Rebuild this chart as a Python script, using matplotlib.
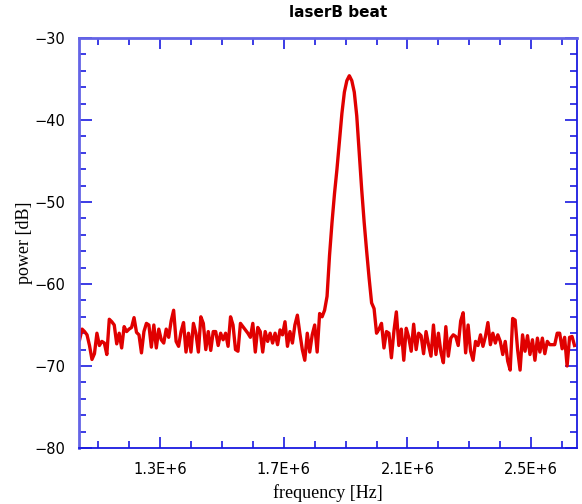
import numpy as np
import matplotlib
matplotlib.use('Agg')
import matplotlib.pyplot as plt
from matplotlib.ticker import FixedLocator, MultipleLocator, FuncFormatter

# frequency grid of the trace [Hz]
f_start = 1.04e6
f_step = 8.0e3

# measured power [dB], one value per frequency bin
power_left = [
    -66.8, -65.5, -65.8, -66.2, -67.5, -69.2, -68.5, -66.0, -67.5, -67.0,
    -67.2, -68.6, -64.3, -64.6, -65.0, -67.3, -66.0, -67.8, -65.2, -65.8,
    -65.5, -65.3, -64.1, -65.9, -66.2, -68.4, -65.8, -64.8, -65.0, -67.7,
    -65.0, -67.8, -65.5, -66.8, -67.2, -65.5, -66.5, -64.5, -63.2, -67.0,
    -67.6, -65.8, -64.7, -68.3, -66.0, -68.3, -64.8, -66.0, -68.3, -64.0,
    -64.8, -68.0, -65.8, -68.1, -65.8, -65.8, -67.5, -66.0, -66.8, -66.0,
    -67.6, -64.0, -65.0, -68.0, -68.2, -64.8, -65.2, -65.6, -66.0, -66.5,
    -64.8, -68.3, -65.3, -65.8, -68.3, -65.8, -67.0, -66.0, -67.2, -66.0,
    -67.4, -65.6, -66.2, -64.6, -67.6, -65.8, -67.2, -65.0, -63.8, -66.0,
    -68.0, -69.3, -66.0, -68.3, -66.2, -65.0, -68.3, -63.6, -64.0, -63.2,
]
power_peak = [
    -61.5, -56.5, -52.5, -49.0, -46.0, -42.6, -39.2, -36.6, -35.2, -34.6,
    -35.2, -36.6, -39.5, -44.0, -48.5, -52.5, -56.0, -59.3, -62.3, -63.0,
]
power_right = [
    -66.0, -65.5, -64.8, -67.8, -65.8, -66.0, -69.0, -65.8, -63.4, -67.5,
    -65.5, -69.3, -65.4, -66.5, -68.2, -64.9, -68.0, -66.0, -66.3, -68.5,
    -65.8, -67.4, -68.8, -65.0, -68.6, -66.0, -68.3, -69.6, -65.2, -68.8,
    -66.6, -66.2, -66.4, -67.5, -64.5, -63.5, -68.4, -65.0, -68.2, -69.3,
    -67.0, -67.5, -66.2, -67.6, -66.4, -64.7, -67.4, -66.0, -67.2, -66.2,
    -67.0, -68.6, -67.0, -69.4, -70.5, -64.2, -64.4, -68.0, -70.5, -66.2,
    -68.2, -66.3, -68.6, -66.8, -69.3, -66.6, -68.3, -66.6, -68.5, -67.0,
    -67.4, -67.4, -67.4, -66.0, -66.0, -67.9, -66.5, -70.0, -66.5, -66.4,
    -67.5,
]

xticks = [1.3e6, 1.7e6, 2.1e6, 2.5e6]
xlim = (1.038e6, 2.648e6)
ylim = (-80, -30)

power = np.array(power_left + power_peak + power_right)
freq = f_start + f_step * np.arange(len(power))

fig = plt.figure(figsize=(5.82, 5.04), dpi=100)
ax = fig.add_axes([0.1357, 0.1111, 0.8557, 0.8135])

ax.plot(freq, power, color='#e00000', lw=2.4, solid_joinstyle='round')

ax.set_xlim(*xlim)
ax.set_ylim(*ylim)

ax.xaxis.set_major_locator(FixedLocator(xticks))
ax.xaxis.set_minor_locator(MultipleLocator(1e5))
ax.xaxis.set_major_formatter(FuncFormatter(lambda v, p: '%.1fE+6' % (v / 1e6)))
ax.yaxis.set_major_locator(MultipleLocator(10))
ax.yaxis.set_minor_locator(MultipleLocator(2))

blue = '#1a1ae0'
ax.tick_params(which='both', direction='in', top=True, right=True,
               color=blue, labelsize=10.5, width=1.2)
ax.tick_params(axis='y', which='major', length=9, pad=10)
ax.tick_params(axis='y', which='minor', length=5)
ax.tick_params(axis='x', which='major', length=8, pad=10)
ax.tick_params(axis='x', which='minor', length=5)

for s in ['left', 'top']:
    ax.spines[s].set_color('#6464e6')
    ax.spines[s].set_linewidth(2.0)
for s in ['bottom', 'right']:
    ax.spines[s].set_color(blue)
    ax.spines[s].set_linewidth(1.3)

serif = ['Liberation Serif', 'DejaVu Serif']
ax.set_xlabel('frequency [Hz]', family=serif, fontsize=13, labelpad=5)
ax.set_ylabel('power [dB]', family=serif, fontsize=13, labelpad=1)
ax.set_title('laserB beat', fontsize=11, fontweight='bold', x=0.52, pad=15)

fig.savefig('out.png', dpi=100)
